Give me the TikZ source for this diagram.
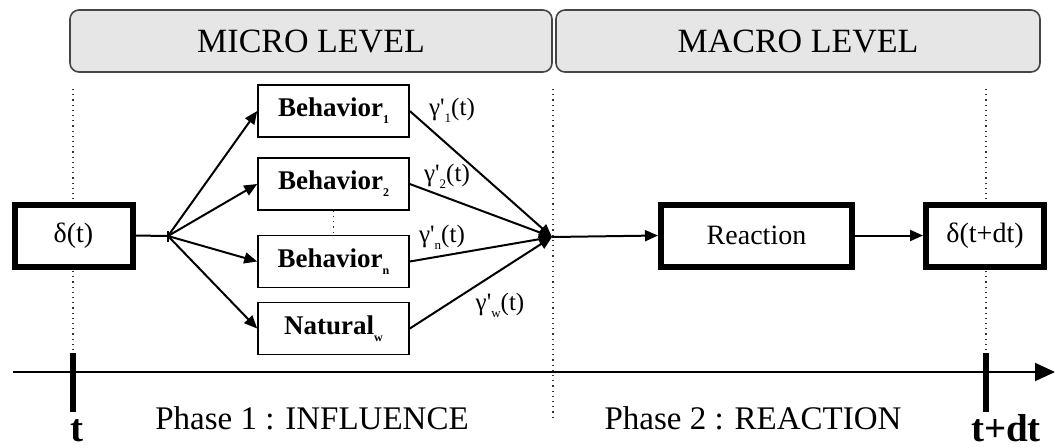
\documentclass[tikz,border=0pt]{standalone}
\usepackage{fontspec}
\setmainfont{Liberation Serif}
\usetikzlibrary{arrows.meta}
\definecolor{levelfill}{HTML}{E6E6E6}
\definecolor{levelborder}{HTML}{454545}
\newcommand\sbs[1]{\raisebox{-0.55ex}{\fontsize{6}{6}\selectfont #1}}
\newcommand\gsb[1]{\raisebox{-0.6ex}{\fontsize{6.5}{7}\selectfont #1}}
\tikzset{
  levelbox/.style={draw=levelborder, line width=0.8pt, fill=levelfill, rounded corners=4.5pt,
    minimum width=#1, minimum height=31pt, inner sep=0pt, font=\fontsize{17}{20}\selectfont},
  thickbox/.style={draw, line width=3pt, fill=white, minimum width=#1, minimum height=31pt,
    inner sep=0pt, font=\fontsize{14}{16}\selectfont},
  behbox/.style={draw, line width=0.8pt, fill=white, minimum width=75.5pt, minimum height=26pt,
    inner sep=0pt, font=\fontsize{13.5}{15}\selectfont\bfseries},
  conn/.style={line width=1pt},
  arr/.style={conn, -{Triangle[length=6.5pt,width=5.5pt]}},
  vdots/.style={dotted, line width=0.6pt, black!80},
  tick/.style={line width=2.6pt},
  glabel/.style={font=\fontsize{12.5}{14}\selectfont, inner sep=0pt},
  phase/.style={font=\fontsize{16.5}{19}\selectfont, anchor=base, inner sep=0pt},
  tlabel/.style={font=\fontsize{19.5}{22}\selectfont\bfseries, anchor=base, inner sep=0pt}
}
\begin{document}
\begin{tikzpicture}[x=0.5pt,y=-0.5pt]
\useasboundingbox (0,0) rectangle (1055,447);
% level boxes
\node[levelbox=241pt] (micro) at (311,41) {MICRO LEVEL};
\node[levelbox=242pt] (macro) at (798,41) {MACRO LEVEL};
% dotted time separators
\coordinate (vt0) at (73,89);
\coordinate (vt1) at (73,353);
\coordinate (vm0) at (553,89);
\coordinate (vm1) at (553,420);
\coordinate (vd0) at (986,89);
\coordinate (vd1) at (986,353);
\draw[vdots] (vt0) -- (vt1);
\draw[vdots] (vm0) -- (vm1);
\draw[vdots] (vd0) -- (vd1);
% main nodes
\node[thickbox=59pt] (dt) at (73.5,235.5) {δ(t)};
\node[thickbox=95.5pt] (react) at (756.5,235.5) {Reaction};
\node[thickbox=59pt] (dtdt) at (985,235.5) {δ(t+dt)};
\node[behbox] (b1) at (333.5,111) {Behavior\sbs{1}};
\node[behbox] (b2) at (333.5,184) {Behavior\sbs{2}};
\node[behbox] (bn) at (333.5,261.5) {Behavior\sbs{n}};
\node[behbox] (nat) at (333.5,328.5) {Natural\sbs{w}};
\draw[vdots] (b2.south) -- (bn.north);
% branch and convergence
\coordinate (br) at (168,236);
\coordinate (brt) at (168,231);
\coordinate (brb) at (168,242);
\coordinate (cv) at (552,237);
\draw[conn] (dt.east) -- (br);
\draw[conn] (brt) -- (brb);
\draw[arr] (br) -- (b1.west);
\draw[arr] (br) -- (b2.west);
\draw[arr] (br) -- (bn.west);
\draw[arr] (br) -- (nat.west);
\draw[arr] (b1.east) -- (cv);
\draw[arr] (b2.east) -- (cv);
\draw[arr] (bn.east) -- (cv);
\draw[arr] (nat.east) -- (cv);
\draw[arr] (cv) -- (react.west);
\draw[arr] (react.east) -- (dtdt.west);
% gamma labels
\node[glabel] (g1) at (452,110) {γ\textquotesingle\gsb{1}(t)};
\node[glabel] (g2) at (447,176) {γ\textquotesingle\gsb{2}(t)};
\node[glabel] (gn) at (442,237) {γ\textquotesingle\gsb{n}(t)};
\node[glabel] (gw) at (500,305) {γ\textquotesingle\gsb{w}(t)};
% timeline
\coordinate (tl0) at (13,372);
\coordinate (tl1) at (1055,372);
\draw[line width=1pt, -{Triangle[length=10pt,width=9pt]}] (tl0) -- (tl1);
\coordinate (k0a) at (73,353);
\coordinate (k0b) at (73,412);
\coordinate (k1a) at (986,353);
\coordinate (k1b) at (986,412);
\draw[tick] (k0a) -- (k0b);
\draw[tick] (k1a) -- (k1b);
\node[tlabel] (lt) at (77,441) {t};
\node[tlabel] (ltdt) at (1006,441) {t+dt};
\node[phase] (p1) at (312,429) {Phase 1 : INFLUENCE};
\node[phase] (p2) at (753,429) {Phase 2 : REACTION};
\end{tikzpicture}
\end{document}
